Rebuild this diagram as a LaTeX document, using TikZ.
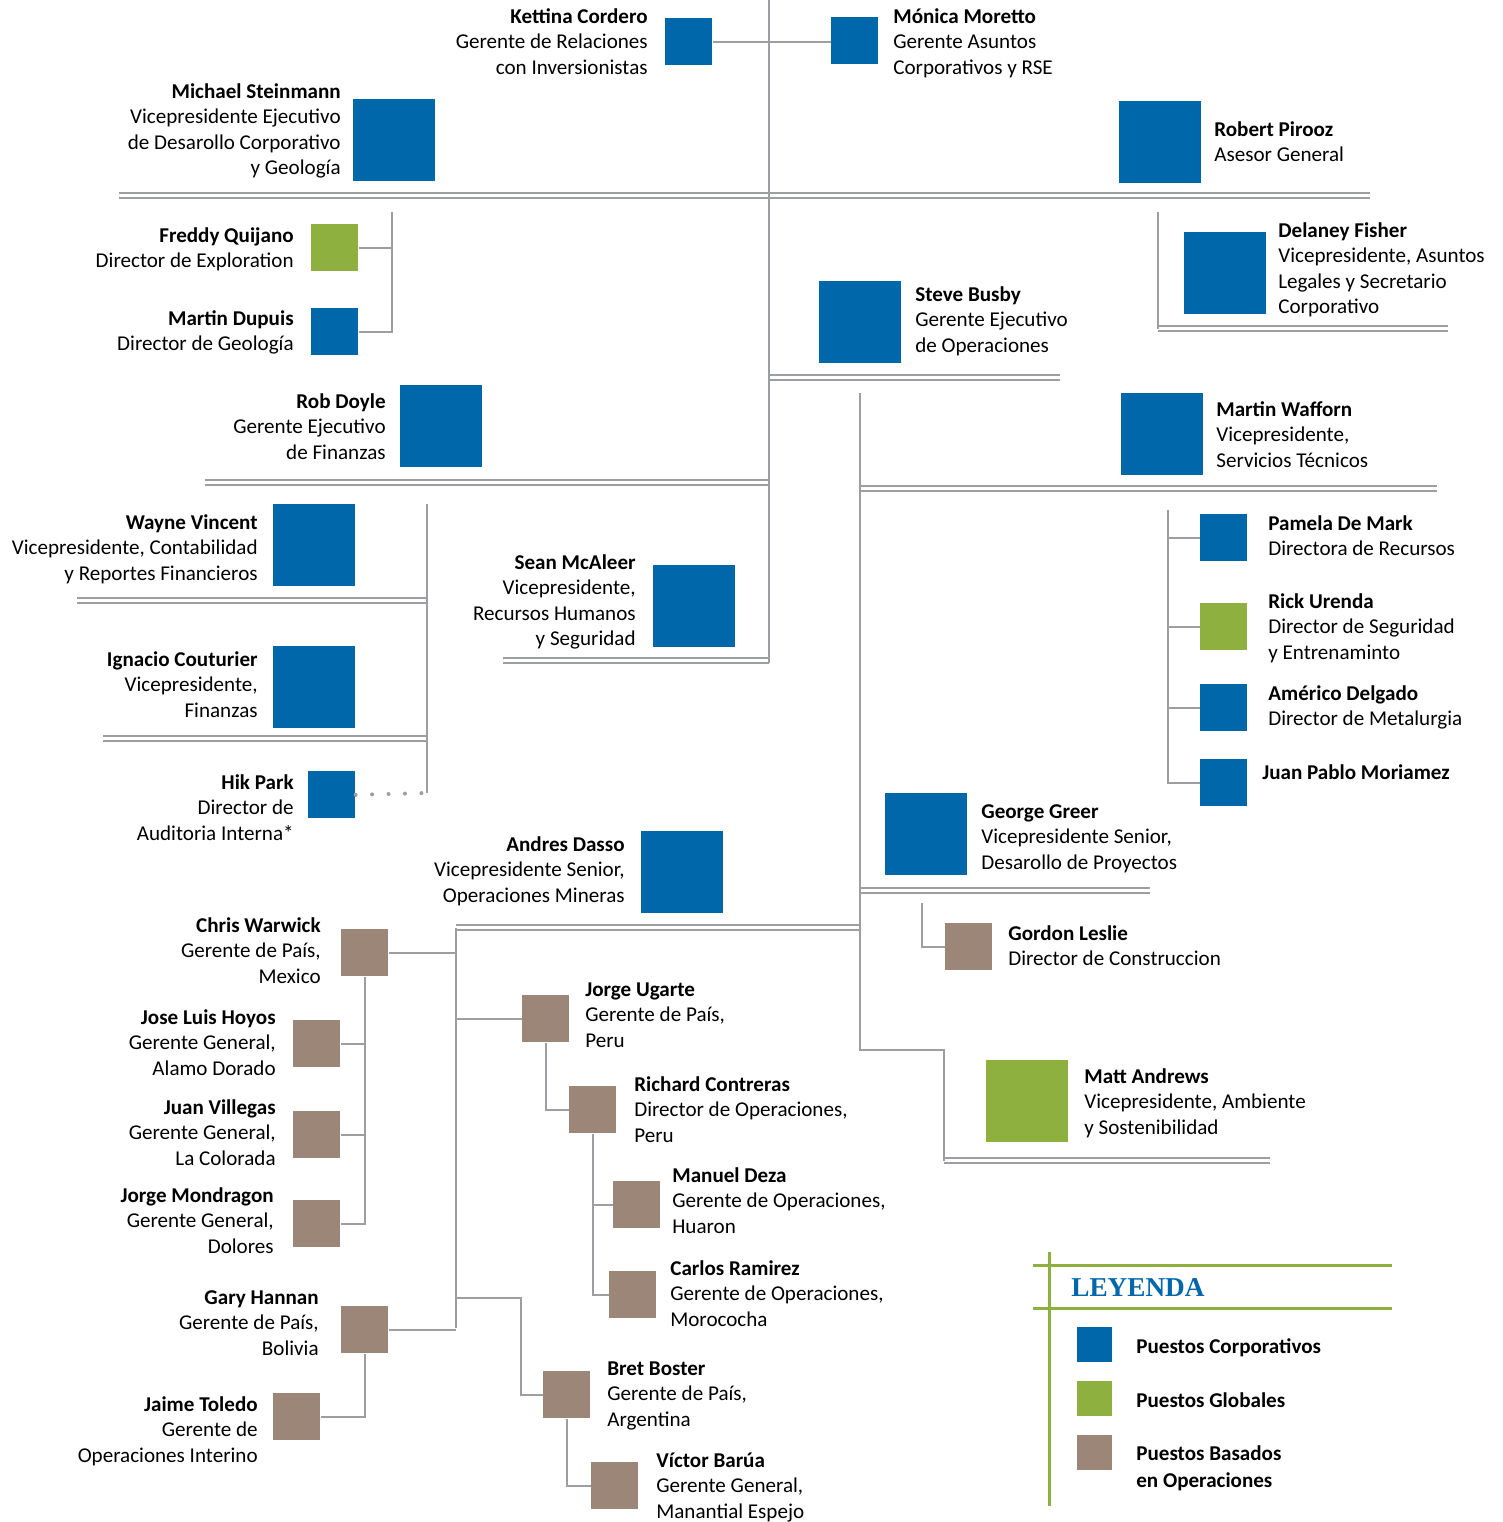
\documentclass[tikz,border=0pt]{standalone}
\usepackage{fontspec}
\setmainfont{Carlito}
\newfontfamily\legendfont{Liberation Serif}
\definecolor{corpblue}{HTML}{0068AA}
\definecolor{globgreen}{HTML}{8DB03E}
\definecolor{opsbrown}{HTML}{9B8678}
\definecolor{linegray}{HTML}{9D9EA2}
\tikzset{
  smallbox/.style={inner sep=0pt, minimum size=0.94cm, anchor=north west},
  bigbox/.style={inner sep=0pt, minimum size=1.64cm, anchor=north west},
  keybox/.style={inner sep=0pt, minimum size=0.7cm, anchor=north west},
  corp/.style={fill=corpblue},
  glob/.style={fill=globgreen},
  ops/.style={fill=opsbrown},
  txtL/.style={anchor=base west, align=left, inner sep=0pt, font=\fontsize{12}{14.5}\selectfont},
  txtR/.style={anchor=base east, align=right, inner sep=0pt, font=\fontsize{12}{14.5}\selectfont},
  link/.style={draw=linegray, line width=1.4pt},
  rule/.style={draw=linegray, line width=1.1pt, double=white, double distance=1.7pt},
  dots/.style={draw=linegray, line width=2.3pt, line cap=round, dash pattern=on 0pt off 9.35pt},
  legline/.style={draw=globgreen, line width=1.7pt}
}
\begin{document}
\begin{tikzpicture}[x=0.02cm,y=-0.02cm]
\useasboundingbox (0,0) rectangle (1503,1522);

% boxes
\node[smallbox,corp] (kc) at (665,18) {};
\node[smallbox,corp] (mm) at (831,17) {};
\node[bigbox,corp] (ms) at (353,99) {};
\node[bigbox,corp] (rp) at (1119,101) {};
\node[smallbox,glob] (fq) at (311,224) {};
\node[smallbox,corp] (md) at (311,308) {};
\node[bigbox,corp] (df) at (1184,232) {};
\node[bigbox,corp] (sb) at (819,281) {};
\node[bigbox,corp] (rd) at (400,385) {};
\node[bigbox,corp] (mw) at (1121,393) {};
\node[bigbox,corp] (wv) at (273,504) {};
\node[bigbox,corp] (ic) at (273,646) {};
\node[smallbox,corp] (hp) at (308,771) {};
\node[bigbox,corp] (sm) at (653,565) {};
\node[smallbox,corp] (pd) at (1200,514) {};
\node[smallbox,glob] (ru) at (1200,603) {};
\node[smallbox,corp] (ad) at (1200,684) {};
\node[smallbox,corp] (jp) at (1200,759) {};
\node[bigbox,corp] (gg) at (885,793) {};
\node[smallbox,ops] (gl) at (945,923) {};
\node[bigbox,glob] (ma) at (986,1060) {};
\node[bigbox,corp] (ads) at (641,831) {};
\node[smallbox,ops] (cw) at (341,929) {};
\node[smallbox,ops] (jlh) at (293,1020) {};
\node[smallbox,ops] (jv) at (293,1111) {};
\node[smallbox,ops] (jm) at (293,1200) {};
\node[smallbox,ops] (gh) at (341,1306) {};
\node[smallbox,ops] (jt) at (273,1393) {};
\node[smallbox,ops] (ju) at (522,995) {};
\node[smallbox,ops] (rc) at (569,1086) {};
\node[smallbox,ops] (mdz) at (613,1181) {};
\node[smallbox,ops] (cr) at (609,1271) {};
\node[smallbox,ops] (bb) at (543,1371) {};
\node[smallbox,ops] (vb) at (591,1462) {};

% labels (placed by the baseline of their last line)
\node[txtR] (kcT) at (648,74) {\textbf{Kettina Cordero}\\Gerente de Relaciones\\con Inversionistas};
\node[txtL] (mmT) at (893,74) {\textbf{Mónica Moretto}\\Gerente Asuntos\\Corporativos y RSE};
\node[txtR] (msT) at (341,174.5) {\textbf{Michael Steinmann}\\Vicepresidente Ejecutivo\\de Desarollo Corporativo\\y Geología};
\node[txtL] (rpT) at (1214,161.5) {\textbf{Robert Pirooz}\\Asesor General};
\node[txtR] (fqT) at (294,267.5) {\textbf{Freddy Quijano}\\Director de Exploration};
\node[txtR] (mdT) at (294,350.5) {\textbf{Martin Dupuis}\\Director de Geología};
\node[txtL] (dfT) at (1278,313.5) {\textbf{Delaney Fisher}\\Vicepresidente, Asuntos\\Legales y Secretario\\Corporativo};
\node[txtL] (sbT) at (915,352) {\textbf{Steve Busby}\\Gerente Ejecutivo\\de Operaciones};
\node[txtR] (rdT) at (386,459) {\textbf{Rob Doyle}\\Gerente Ejecutivo\\de Finanzas};
\node[txtL] (mwT) at (1216,467) {\textbf{Martin Wafforn}\\Vicepresidente,\\Servicios Técnicos};
\node[txtR] (wvT) at (258,580) {\textbf{Wayne Vincent}\\Vicepresidente, Contabilidad\\y Reportes Financieros};
\node[txtR] (icT) at (258,717) {\textbf{Ignacio Couturier}\\Vicepresidente,\\Finanzas};
\node[txtR] (hpT) at (294,840) {\textbf{Hik Park}\\Director de\\Auditoria Interna*};
\node[txtR] (smT) at (636,645.5) {\textbf{Sean McAleer}\\Vicepresidente,\\Recursos Humanos\\y Seguridad};
\node[txtL] (pdT) at (1268,555.5) {\textbf{Pamela De Mark}\\Directora de Recursos};
\node[txtL] (ruT) at (1268,659) {\textbf{Rick Urenda}\\Director de Seguridad\\y Entrenaminto};
\node[txtL] (adT) at (1268,725.5) {\textbf{Américo Delgado}\\Director de Metalurgia};
\node[txtL] (jpT) at (1262,779) {\textbf{Juan Pablo Moriamez}};
\node[txtL] (ggT) at (981,869) {\textbf{George Greer}\\Vicepresidente Senior,\\Desarollo de Proyectos};
\node[txtL] (glT) at (1008,965.5) {\textbf{Gordon Leslie}\\Director de Construccion};
\node[txtL] (maT) at (1084,1134) {\textbf{Matt Andrews}\\Vicepresidente, Ambiente\\y Sostenibilidad};
\node[txtR] (adsT) at (625,902) {\textbf{Andres Dasso}\\Vicepresidente Senior,\\Operaciones Mineras};
\node[txtR] (cwT) at (321,983) {\textbf{Chris Warwick}\\Gerente de País,\\Mexico};
\node[txtR] (jlhT) at (276,1075) {\textbf{Jose Luis Hoyos}\\Gerente General,\\Alamo Dorado};
\node[txtR] (jvT) at (276,1165) {\textbf{Juan Villegas}\\Gerente General,\\La Colorada};
\node[txtR] (jmT) at (274,1253) {\textbf{Jorge Mondragon}\\Gerente General,\\Dolores};
\node[txtR] (ghT) at (319,1355) {\textbf{Gary Hannan}\\Gerente de País,\\Bolivia};
\node[txtR] (jtT) at (258,1462) {\textbf{Jaime Toledo}\\Gerente de\\Operaciones Interino};
\node[txtL] (juT) at (585,1047) {\textbf{Jorge Ugarte}\\Gerente de País,\\Peru};
\node[txtL] (rcT) at (634,1142) {\textbf{Richard Contreras}\\Director de Operaciones,\\Peru};
\node[txtL] (mdzT) at (672,1233) {\textbf{Manuel Deza}\\Gerente de Operaciones,\\Huaron};
\node[txtL] (crT) at (670,1326) {\textbf{Carlos Ramirez}\\Gerente de Operaciones,\\Morococha};
\node[txtL] (bbT) at (607,1426) {\textbf{Bret Boster}\\Gerente de País,\\Argentina};
\node[txtL] (vbT) at (656,1518) {\textbf{Víctor Barúa}\\Gerente General,\\Manantial Espejo};

% rule end points
\coordinate (r1a) at (119,195.5);  \coordinate (r1b) at (1370,195.5);
\coordinate (r2a) at (1158,328.5); \coordinate (r2b) at (1448,328.5);
\coordinate (r3a) at (769,377.5);  \coordinate (r3b) at (1060,377.5);
\coordinate (r4a) at (205,482.5);  \coordinate (r4b) at (769,482.5);
\coordinate (r5a) at (860,488.5);  \coordinate (r5b) at (1437,488.5);
\coordinate (r6a) at (77,600.5);   \coordinate (r6b) at (427,600.5);
\coordinate (r7a) at (103,738.5);  \coordinate (r7b) at (427,738.5);
\coordinate (r8a) at (503,660.5);  \coordinate (r8b) at (769,660.5);
\coordinate (r9a) at (860,890.5);  \coordinate (r9b) at (1150,890.5);
\coordinate (r10a) at (456,927.5); \coordinate (r10b) at (860,927.5);
\coordinate (r11a) at (944,1160.5); \coordinate (r11b) at (1270,1160.5);

\draw[rule] (r1a) -- (r1b);
\draw[rule] (r2a) -- (r2b);
\draw[rule] (r3a) -- (r3b);
\draw[rule] (r4a) -- (r4b);
\draw[rule] (r5a) -- (r5b);
\draw[rule] (r6a) -- (r6b);
\draw[rule] (r7a) -- (r7b);
\draw[rule] (r8a) -- (r8b);
\draw[rule] (r9a) -- (r9b);
\draw[rule] (r10a) -- (r10b);
\draw[rule] (r11a) -- (r11b);

% connectors
\coordinate (trTop) at (769,0);
\coordinate (trBot) at (769,663);
\coordinate (exTop) at (392,212);
\coordinate (dfTop) at (1158,212);
\coordinate (opTop) at (860,393);
\coordinate (opKnee) at (860,1050);
\coordinate (maKnee) at (944,1050);
\coordinate (maBot) at (944,1161);
\coordinate (tsTop) at (1168,510);
\coordinate (fnTop) at (427,504);
\coordinate (fnBot) at (427,793);
\coordinate (glTop) at (922,903);
\coordinate (mnBot) at (456,1328);
\coordinate (bbKnee) at (521,1298);

\draw[link] (trTop) -- (trBot);
\draw[link] (kc.east) -- (kc.east -| mm.west);
\draw[link] (exTop) |- (md.east);
\draw[link] (fq.east) -- (fq.east -| exTop);
\draw[link] (dfTop) -- (r2a);
\draw[link] (opTop) -- (opKnee) -- (maKnee) -- (maBot);
\draw[link] (tsTop) |- (jp.west);
\draw[link] (pd.west -| tsTop) -- (pd.west);
\draw[link] (ru.west -| tsTop) -- (ru.west);
\draw[link] (ad.west -| tsTop) -- (ad.west);
\draw[link] (fnTop) -- (fnBot);
\draw[dots] (hp.east) -- (fnBot);
\draw[link] (glTop) |- (gl.west);
\draw[link] (r10a) -- (mnBot);
\draw[link] (cw.east) -- (cw.east -| mnBot);
\draw[link] (gh.east) -- (gh.east -| mnBot);
\draw[link] (ju.west -| mnBot) -- (ju.west);
\draw[link] (bbKnee -| mnBot) -- (bbKnee) |- (bb.west);
\draw[link] (cw.south) |- (jm.east);
\draw[link] (jlh.east) -- (jlh.east -| cw.south);
\draw[link] (jv.east) -- (jv.east -| cw.south);
\draw[link] (gh.south) |- (jt.east);
\draw[link] (ju.south) |- (rc.west);
\draw[link] (rc.south) |- (cr.west);
\draw[link] (mdz.west -| rc.south) -- (mdz.west);
\draw[link] (bb.south) |- (vb.west);

% legend
\coordinate (lgTop) at (1049,1252);
\coordinate (lgBot) at (1049,1506);
\coordinate (lgAa) at (1033,1265); \coordinate (lgAb) at (1392,1265);
\coordinate (lgBa) at (1033,1308); \coordinate (lgBb) at (1392,1308);
\draw[legline] (lgTop) -- (lgBot);
\draw[legline] (lgAa) -- (lgAb);
\draw[legline] (lgBa) -- (lgBb);
\node[anchor=base west, inner sep=0pt, text=corpblue, font=\legendfont\bfseries\fontsize{15.5}{18}\selectfont] (lgT) at (1071,1296) {LEYENDA};
\node[keybox,corp] (kCorp) at (1077,1327) {};
\node[keybox,glob] (kGlob) at (1077,1381) {};
\node[keybox,ops] (kOps) at (1077,1435) {};
\node[txtL,font=\bfseries\fontsize{12}{14}\selectfont] (kCorpT) at (1136,1353) {Puestos Corporativos};
\node[txtL,font=\bfseries\fontsize{12}{14}\selectfont] (kGlobT) at (1136,1407) {Puestos Globales};
\node[txtL,font=\bfseries\fontsize{12}{15.3}\selectfont] (kOpsT) at (1136,1487) {Puestos Basados\\en Operaciones};
\end{tikzpicture}
\end{document}
